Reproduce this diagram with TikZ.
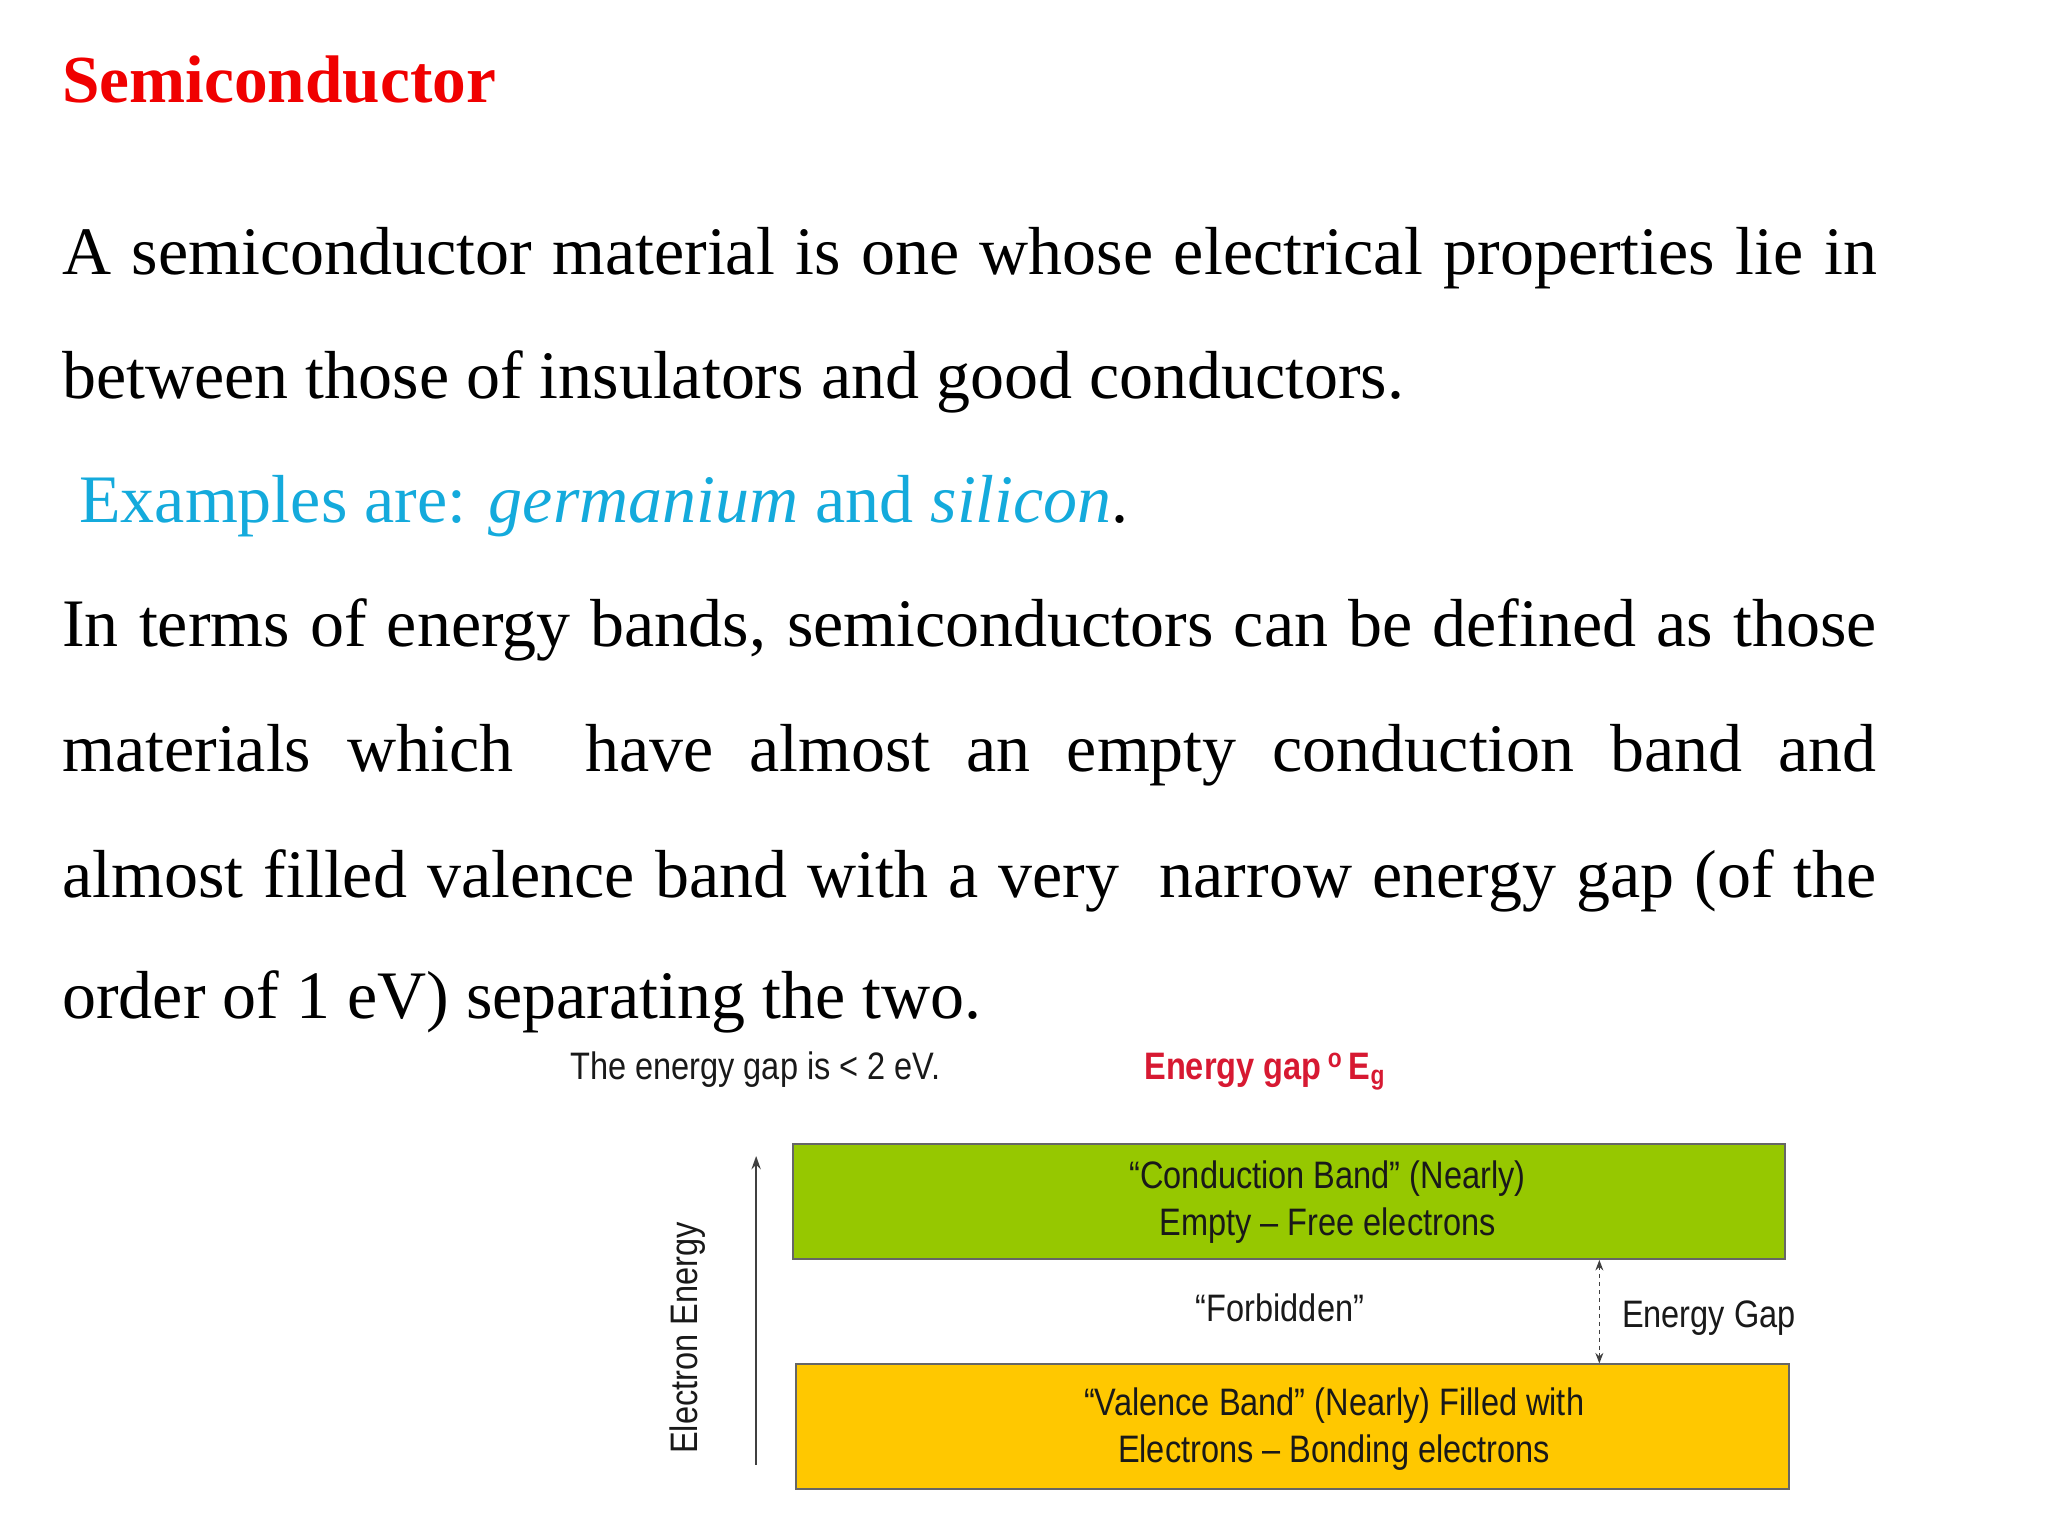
\documentclass[tikz,border=0pt]{standalone}
\usepackage{fontspec}
\usetikzlibrary{arrows.meta}
\setmainfont{Liberation Serif}
\newfontfamily\diag{Liberation Sans}
\definecolor{ttlred}{RGB}{240,0,0}
\definecolor{exblue}{RGB}{20,170,220}
\definecolor{cbgreen}{RGB}{150,200,0}
\definecolor{vbyellow}{RGB}{255,200,0}
\definecolor{egred}{RGB}{215,25,50}
\begin{document}
\begin{tikzpicture}[x=1pt,y=-1pt,
  para/.style={anchor=base west,inner sep=0pt,font=\fontsize{51.5}{56}\selectfont},
  dlab/.style={inner sep=0pt,font=\diag\fontsize{29}{36}\selectfont\addfontfeature{FakeStretch=0.85},text=black!90,align=center},
  band/.style={draw=black!60,line width=1.5pt}]
\useasboundingbox (0,0) rectangle (1552,1164);
\node[anchor=base west,inner sep=0pt,font=\bfseries\fontsize{51}{56}\selectfont,text=ttlred] (title) at (47,78) {Semiconductor};
\node[para] (l1) at (47,208) {\makebox[1375pt][s]{A semiconductor material is one whose electrical properties lie in}};
\node[para] (l2) at (47,302) {between those of insulators and good conductors.};
\node[para,text=exblue] (l3) at (60,396) {Examples are: \textit{germanium} and \textit{silicon}\textcolor{black}{.}};
\node[para] (l4) at (47,490) {\makebox[1375pt][s]{In terms of energy bands, semiconductors can be defined as those}};
\node[para] (l5) at (47,585) {\makebox[1375pt][s]{materials which\ \ have almost an empty conduction band and}};
\node[para] (l6) at (47,680) {\makebox[1375pt][s]{almost filled valence band with a very\ \ narrow energy gap (of the}};
\node[para] (l7) at (47,772) {order of 1 eV) separating the two.};
% diagram
\node[dlab,anchor=base west] (gaptxt) at (432,818) {The energy gap is < 2 eV.};
\node[dlab,anchor=base west,text=egred,font=\diag\bfseries\fontsize{29}{34}\selectfont\addfontfeature{FakeStretch=0.85}] (egtxt) at (867,818) {Energy gap\,\textsuperscript{o}\,E\textsubscript{g}};
\node[band,fill=cbgreen,minimum width=752pt,minimum height=87pt,inner sep=0pt] (cb) at (977,910.5) {};
\node[dlab] (cbt) at (1006,911) {“Conduction Band” (Nearly)\\Empty – Free electrons};
\node[band,fill=vbyellow,minimum width=753pt,minimum height=94pt,inner sep=0pt] (vb) at (979.5,1081) {};
\node[dlab] (vbt) at (1011,1083) {“Valence Band” (Nearly) Filled with\\Electrons – Bonding electrons};
\node[dlab] (forb) at (970,991) {“Forbidden”};
\node[dlab,anchor=west] (egap) at (1229,999) {Energy Gap};
\coordinate (ax0) at (573,1110);
\coordinate (ax1) at (573,876);
\draw[-{Stealth[length=10pt,width=7pt]},line width=1.5pt,black!75] (ax0) -- (ax1);
\node[dlab,rotate=90] (eetxt) at (521,1014) {Electron Energy};
\draw[{Stealth[length=8pt,width=6pt]}-{Stealth[length=8pt,width=6pt]},dashed,line width=1.2pt,black!75] (cb.south -| 1212,0) -- (vb.north -| 1212,0);
\end{tikzpicture}
\end{document}
